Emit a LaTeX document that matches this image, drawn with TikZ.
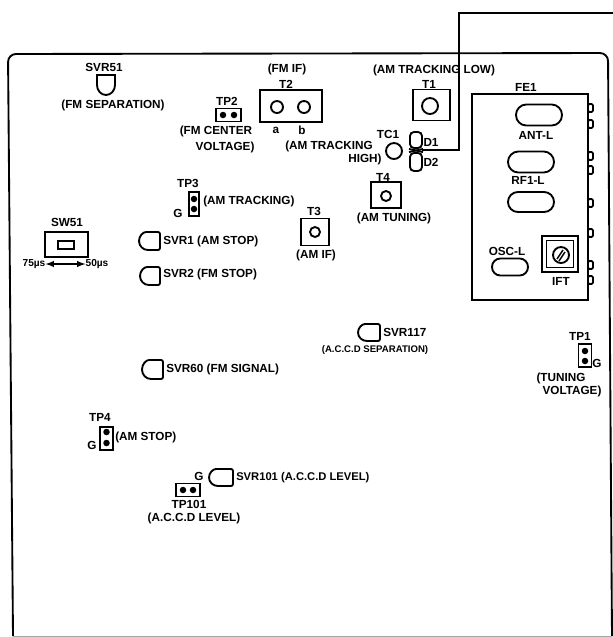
\documentclass[tikz,border=0pt]{standalone}
\usepackage{fontspec}
\setmainfont{Liberation Sans}
\newcommand{\pxu}{0.75pt}
\newcommand{\svrleft}[4]{\draw[part,rounded corners=1.5pt] (#3,#2) -- (#1+9,#2) [sharp corners] to[out=180,in=90] (#1,#2/2+#4/2) to[out=-90,in=180] (#1+9,#4) [rounded corners=1.5pt] -- (#3,#4) -- cycle;}
\tikzset{
  part/.style={line width=1.4pt,black},
  thinpart/.style={line width=1.1pt,black},
  txt/.style={inner sep=0pt,font=\fontsize{8.8}{10}\selectfont\bfseries,align=center,text=black},
  ltxt/.style={txt,anchor=west},
  boxn/.style 2 args={draw,part,inner sep=0pt,minimum width=#1*\pxu,minimum height=#2*\pxu},
  oval/.style 2 args={boxn={#1}{#2},rectangle,rounded corners=#2*0.37pt},
  holen/.style={draw,part,circle,inner sep=0pt,minimum size=#1*\pxu},
  dotn/.style={fill=black,circle,inner sep=0pt,minimum size=6.5*\pxu},
  tabn/.style={draw,part,inner sep=0pt,minimum width=5*\pxu,minimum height=8*\pxu,rounded corners=1pt},
}
\begin{document}
\begin{tikzpicture}[x=0.75pt,y=-0.75pt]
\useasboundingbox (0,0) rectangle (613,637);
\fill[white] (0,0) rectangle (613,637);
% board
\draw[part,rounded corners=6pt] (13,636) -- (8,54) -- (608,53) -- (612,636);
\draw[line width=0.4pt,black!35] (13,636) -- (612,636);
% wire
\coordinate (wj) at (422,150);
\coordinate (wc) at (459,150);
\coordinate (wt) at (459,13);
\coordinate (we) at (613,13);
\draw[thinpart] (wj) -- (wc) -- (wt) -- (we);
% SVR51
\draw[part] (97,75) -- (115,75) -- (115,85) to[out=-90,in=0] (106,95) to[out=180,in=-90] (97,85) -- cycle;
\node[txt] (lsvr51) at (104,67) {SVR51};
\node[txt] (lfmsep) at (113,105) {(FM SEPARATION)};
% T2
\node[boxn={62}{32}] (t2) at (291,106) {};
\node[holen=12] (t2a) at (277,107) {};
\node[holen=12] (t2b) at (304,107) {};
\node[txt] (lfmif) at (287,69) {(FM IF)};
\node[txt] (lt2) at (286,84) {T2};
\node[txt] (la) at (276,130) {a};
\node[txt] (lb) at (302,130) {b};
% TP2
\node[boxn={25}{13}] (tp2) at (228.5,115) {};
\node[dotn] (tp2a) at (223,115) {};
\node[dotn] (tp2b) at (234,115) {};
\node[txt] (ltp2) at (227,101) {TP2};
\node[txt] (lfmc) at (216,131) {(FM CENTER};
\node[txt] (lvolt) at (225,147) {VOLTAGE)};
% T1 etc
\node[txt] (lamlow) at (434,70) {(AM TRACKING LOW)};
\node[txt] (lt1) at (429,84) {T1};
\node[boxn={37}{31}] (t1) at (431.5,105) {};
\node[holen=16] (t1h) at (430,106) {};
\node[txt] (ltc1) at (388,134) {TC1};
\node[holen=16] (tc1) at (394,151) {};
\node[txt] (lamh1) at (329,146) {(AM TRACKING};
\node[txt] (lamh2) at (365,159) {HIGH)};
\node[boxn={12}{16},rounded corners=3pt] (d1) at (416,140) {};
\node[boxn={12}{18},rounded corners=3pt] (d2) at (416,162) {};
\draw[part] (d1.south west) -- (d2.north east);
\draw[part] (d1.south east) -- (d2.north west);
\node[txt] (ld1) at (431,142) {D1};
\node[txt] (ld2) at (431,162) {D2};
\node[txt] (lt4) at (383,177) {T4};
\node[boxn={30}{26}] (t4) at (386,195) {};
\node[holen=10] (t4h) at (386,196) {};
\node[txt] (lamtun) at (394,218) {(AM TUNING)};
% FE1
\node[txt] (lfe1) at (526,87) {FE1};
\node[boxn={116}{206}] (fe1) at (530,197) {};
\foreach \n/\y in {a/108,b/124,c/156,d/170,e/203,f/233,g/265,h/280}{
  \node[tabn] (tab\n) at (590.5,\y) {};
}
\node[oval={46}{21}] (ant) at (539,115) {};
\node[txt] (lant) at (536,135) {ANT-L};
\node[oval={46}{21}] (rf1) at (531,162) {};
\node[txt] (lrf1) at (528,180) {RF1-L};
\node[oval={46}{20}] (rf2) at (531,202) {};
\node[oval={36}{17}] (osc) at (510,267) {};
\node[txt] (losc) at (507,251) {OSC-L};
\node[boxn={36}{36}] (ift) at (560,254) {};
\node[boxn={27}{27}] (ifti) at (560,254) {};
\node[holen=16] (ifth) at (561,255) {};
\draw[thinpart] (557,259) -- (563,250);
\draw[thinpart] (559,261) -- (565,252);
\node[txt] (lift) at (561,281) {IFT};
% TP3
\node[txt] (ltp3) at (188,183) {TP3};
\node[boxn={10}{24}] (tp3) at (194,204) {};
\node[dotn] (tp3a) at (194,199) {};
\node[dotn] (tp3b) at (194,209) {};
\node[txt] (lg3) at (178,213) {G};
\node[ltxt] (lamtr) at (203,201) {(AM TRACKING)};
% T3
\node[txt] (lt3) at (314,211) {T3};
\node[boxn={28}{27}] (t3) at (315,232) {};
\node[holen=10] (t3h) at (315,232) {};
\node[txt] (lamif) at (316,255) {(AM IF)};
% SW51
\node[txt] (lsw) at (67,222) {SW51};
\node[boxn={43}{25}] (sw) at (66.5,244.5) {};
\node[boxn={16}{8}] (swi) at (66,245) {};
\node[txt,font=\fontsize{7.6}{9}\selectfont\bfseries] (l75) at (34,264) {75µs};
\node[txt,font=\fontsize{7.6}{9}\selectfont\bfseries] (l50) at (97,264) {50µs};
\draw[thinpart,<->,>=latex] (l75.east) -- (l50.west);
% SVRs
\svrleft{139}{232}{160}{250}
\node[ltxt] (lsvr1) at (163,241) {SVR1 (AM STOP)};
\svrleft{140}{267}{160}{285}
\node[ltxt] (lsvr2) at (163,274) {SVR2 (FM STOP)};
\svrleft{358}{324}{380}{341}
\node[ltxt] (lsvr117) at (383,332) {SVR117};
\node[txt,font=\fontsize{7.2}{9}\selectfont\bfseries] (lsep) at (375,350) {(A.C.C.D SEPARATION)};
\svrleft{142}{360}{163}{379}
\node[ltxt] (lsvr60) at (166,369) {SVR60 (FM SIGNAL)};
% TP1
\node[txt] (ltp1) at (580,336) {TP1};
\node[boxn={13}{23}] (tp1) at (585,355.5) {};
\node[dotn] (tp1a) at (585,351) {};
\node[dotn] (tp1b) at (585,361) {};
\node[txt] (lg1) at (597,363) {G};
\node[txt] (ltun) at (561,378) {(TUNING};
\node[txt] (lvolt1) at (572,391) {VOLTAGE)};
% TP4
\node[txt] (ltp4) at (100,417) {TP4};
\node[boxn={13}{23}] (tp4) at (106.5,438.5) {};
\node[dotn] (tp4a) at (106.5,432) {};
\node[dotn] (tp4b) at (106.5,443) {};
\node[txt] (lg4) at (92,445) {G};
\node[ltxt] (lamst) at (115,437) {(AM STOP)};
% SVR101
\node[txt] (lg101) at (199,476) {G};
\svrleft{209}{469}{233}{486}
\node[ltxt,font=\fontsize{8.4}{10}\selectfont\bfseries] (lsvr101) at (236,478) {SVR101 (A.C.C.D LEVEL)};
\node[boxn={24}{13}] (tp101) at (188,490) {};
\node[dotn] (tp101a) at (183,490) {};
\node[dotn] (tp101b) at (193,490) {};
\node[txt] (ltp101) at (189,504) {TP101};
\node[txt] (laccd) at (194,518) {(A.C.C.D LEVEL)};
\end{tikzpicture}
\end{document}
